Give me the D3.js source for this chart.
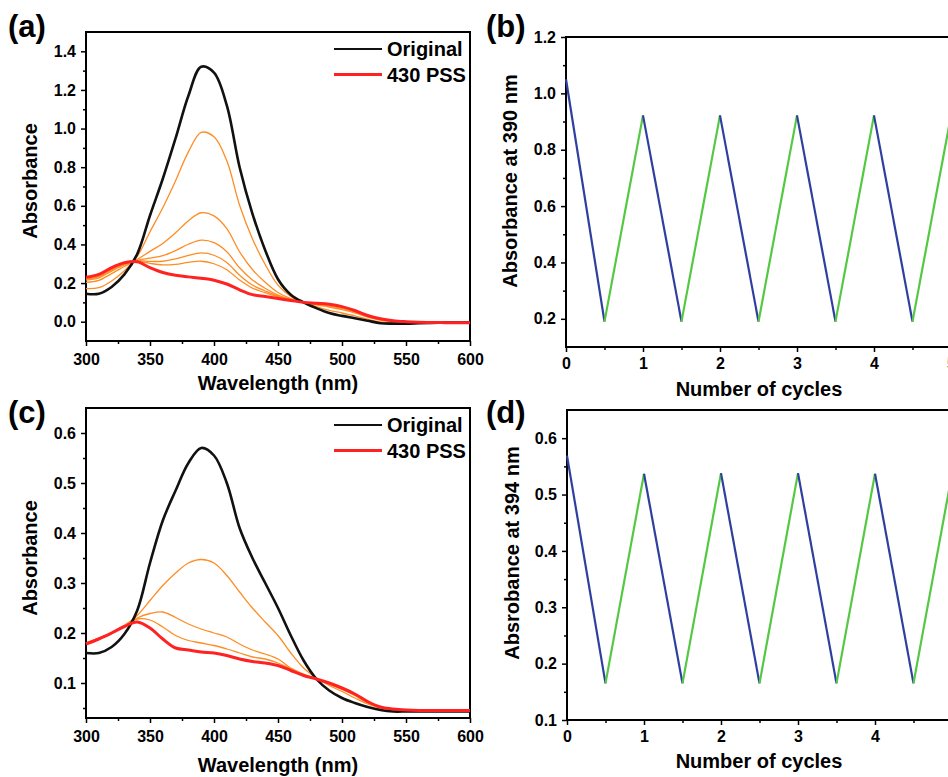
<!DOCTYPE html>
<html>
<head>
<meta charset="utf-8">
<script src="https://cdn.jsdelivr.net/npm/d3@7"></script>
<style>
  body { margin: 0; background: #fff; }
  svg { display: block; font-family: "Liberation Sans", Arial, sans-serif; font-weight: bold; }
  .tick text { font-size: 16px; font-weight: bold; fill: #000; }
  .tick line { stroke: #000; stroke-width: 1.5px; }
  .axis-label { font-size: 20px; }
  .panel-label { font-size: 31px; }
  .legend-label { font-size: 20px; }
</style>
</head>
<body>
<div id="fig"></div>
<script>
// ====== Photo-switching figure, four panels ======
//
// (a)/(c) absorption spectra, (b)/(d) absorbance over switching cycles

// wavelength grid shared by every spectrum (nm)
const wavelengths = [300, 310, 320, 330, 340, 350, 360, 370, 380, 390, 400,
                     410, 420, 430, 440, 450, 460, 470, 480, 490, 500,
                     510, 520, 530, 540, 550, 560, 570, 580, 590, 600];

// panel (a)
const aOriginal = [0.145, 0.145, 0.18, 0.245, 0.35, 0.55, 0.74, 0.95, 1.17, 1.32, 1.29,
                   1.12, 0.80, 0.56, 0.37, 0.22, 0.14, 0.10, 0.07, 0.045, 0.03,
                   0.018, 0.005, -0.008, -0.01, -0.01, -0.008, -0.006, -0.005, -0.005, -0.005];
const aPSS = [0.23, 0.245, 0.28, 0.305, 0.31, 0.28, 0.255, 0.24, 0.232, 0.225, 0.215,
              0.195, 0.165, 0.14, 0.13, 0.12, 0.11, 0.10, 0.095, 0.09, 0.078,
              0.058, 0.032, 0.015, 0.005, 0.0, -0.003, -0.004, -0.005, -0.005, -0.005];
const aStep1 = [0.171, 0.176, 0.211, 0.264, 0.338, 0.466, 0.59, 0.73, 0.879, 0.98, 0.957,
                0.833, 0.603, 0.43, 0.296, 0.189, 0.131, 0.10, 0.078, 0.059, 0.045,
                0.030, 0.013, -0.001, -0.005, -0.007, -0.007, -0.005, -0.005, -0.005, -0.005];
const aStep2 = [0.204, 0.214, 0.249, 0.286, 0.322, 0.364, 0.405, 0.46, 0.523, 0.564, 0.548,
                0.482, 0.362, 0.27, 0.204, 0.151, 0.119, 0.10, 0.087, 0.076, 0.063,
                0.046, 0.024, 0.008, 0.0, -0.003, -0.005, -0.005, -0.005, -0.005, -0.005];
const aStep3 = [0.215, 0.227, 0.262, 0.294, 0.317, 0.329, 0.342, 0.368, 0.401, 0.422, 0.409,
                0.362, 0.279, 0.216, 0.173, 0.138, 0.115, 0.10, 0.09, 0.082, 0.069,
                0.051, 0.027, 0.011, 0.002, -0.002, -0.004, -0.005, -0.005, -0.005, -0.005];
const aStep4 = [0.22, 0.233, 0.268, 0.298, 0.315, 0.312, 0.313, 0.325, 0.343, 0.356, 0.344,
                0.306, 0.241, 0.19, 0.159, 0.132, 0.114, 0.10, 0.092, 0.085, 0.072,
                0.053, 0.028, 0.012, 0.003, -0.001, -0.004, -0.005, -0.005, -0.005, -0.005];
const aStep5 = [0.223, 0.237, 0.272, 0.30, 0.313, 0.302, 0.294, 0.297, 0.307, 0.313, 0.30,
                0.269, 0.216, 0.174, 0.15, 0.128, 0.112, 0.10, 0.093, 0.086, 0.074,
                0.055, 0.029, 0.013, 0.004, 0.0, -0.003, -0.005, -0.005, -0.005, -0.005];

// panel (c)
const cOriginal = [0.16, 0.16, 0.172, 0.198, 0.245, 0.34, 0.425, 0.485, 0.54, 0.57, 0.555,
                   0.50, 0.41, 0.35, 0.30, 0.25, 0.195, 0.145, 0.108, 0.085, 0.07,
                   0.06, 0.052, 0.046, 0.043, 0.043, 0.043, 0.043, 0.043, 0.043, 0.043];
const cPSS = [0.178, 0.188, 0.20, 0.213, 0.222, 0.21, 0.188, 0.17, 0.166, 0.162, 0.16,
              0.155, 0.148, 0.143, 0.14, 0.135, 0.125, 0.115, 0.108, 0.10, 0.09,
              0.078, 0.063, 0.052, 0.048, 0.046, 0.045, 0.045, 0.045, 0.045, 0.045];
const cStep1 = [0.18, 0.19, 0.20, 0.215, 0.235, 0.265, 0.295, 0.32, 0.34, 0.347, 0.34,
                0.315, 0.282, 0.25, 0.222, 0.195, 0.16, 0.13, 0.11, 0.095, 0.083,
                0.07, 0.058, 0.05, 0.046, 0.045, 0.046, 0.046, 0.046, 0.046, 0.046];
const cStep2 = [0.18, 0.19, 0.20, 0.215, 0.23, 0.239, 0.242, 0.231, 0.218, 0.208, 0.20,
                0.192, 0.178, 0.166, 0.158, 0.148, 0.13, 0.118, 0.108, 0.097, 0.087,
                0.075, 0.06, 0.05, 0.046, 0.046, 0.046, 0.046, 0.046, 0.046, 0.046];
const cStep3 = [0.18, 0.19, 0.20, 0.215, 0.228, 0.226, 0.212, 0.195, 0.185, 0.18, 0.175,
                0.168, 0.16, 0.152, 0.148, 0.14, 0.128, 0.116, 0.108, 0.098, 0.088,
                0.076, 0.061, 0.051, 0.047, 0.046, 0.046, 0.046, 0.046, 0.046, 0.046];

// panels (b) and (d): cycle positions and absorbance
const cycles = [0, 0.5, 1, 1.5, 2, 2.5, 3, 3.5, 4, 4.5, 5];
const bAbs390 = [1.05, 0.19, 0.922, 0.19, 0.922, 0.19, 0.922, 0.19, 0.922, 0.19, 0.922];
const dAbs394 = [0.569, 0.165, 0.537, 0.165, 0.538, 0.165, 0.538, 0.165, 0.537, 0.165, 0.537];

const legendNames = ["Original", "430 PSS"];
const spectrumTicksX = [300, 350, 400, 450, 500, 550, 600];
const cycleTicksX = [0, 1, 2, 3, 4, 5];

const svg = d3.select("#fig").append("svg")
    .attr("width", 948)
    .attr("height", 777)
    .style("overflow", "hidden");

function drawAxes (g, x, y, o) {
    let width = x.range()[1], height = y.range()[0];

    // minor ticks first, major on top
    g.append("g")
        .attr("transform", "translate(0," + height + ")")
        .call(d3.axisBottom(x).tickValues(o.xMinor).tickSize(3).tickSizeOuter(0).tickFormat(""))
        .call(s => s.select(".domain").remove());
    g.append("g")
        .call(d3.axisLeft(y).tickValues(o.yMinor).tickSize(3).tickSizeOuter(0).tickFormat(""))
        .call(s => s.select(".domain").remove());

    g.append("g")
        .attr("class", "x axis")
        .attr("transform", "translate(0," + height + ")")
        .call(d3.axisBottom(x).tickValues(o.xMajor).tickSize(5).tickSizeOuter(0)
            .tickPadding(o.xPad).tickFormat(o.xFormat))
        .call(s => s.select(".domain").remove());
    g.append("g")
        .attr("class", "y axis")
        .call(d3.axisLeft(y).tickValues(o.yMajor).tickSize(5).tickSizeOuter(0)
            .tickPadding(5).tickFormat(d3.format(".1f")))
        .call(s => s.select(".domain").remove());

    // frame
    g.append("rect")
        .attr("width", width)
        .attr("height", height)
        .attr("fill", "none")
        .attr("stroke", "#000")
        .attr("stroke-width", 2);

    g.append("text")
        .attr("class", "axis-label")
        .attr("transform", "rotate(-90)")
        .attr("x", -o.yTitleY)
        .attr("y", o.yTitleX)
        .attr("dy", "0.35em")
        .style("text-anchor", "middle")
        .text(o.yTitle);

    g.append("text")
        .attr("class", "axis-label")
        .attr("x", o.xTitleX)
        .attr("y", o.xTitleY)
        .style("text-anchor", "middle")
        .text(o.xTitle);
}

function buildSpectrum (o) {
    let g = svg.append("g").attr("transform", "translate(" + o.left + "," + o.top + ")");

    let x = d3.scaleLinear().domain([300, 600]).range([0, o.width]);
    let y = d3.scaleLinear().domain(o.yDomain).range([o.height, 0]);

    drawAxes(g, x, y, {
        xMajor: spectrumTicksX,
        xMinor: d3.range(325, 600, 50),
        yMajor: o.yMajor,
        yMinor: o.yMinor,
        xPad: 8,
        xFormat: d3.format("d"),
        yTitle: "Absorbance",
        yTitleX: 30 - o.left,
        yTitleY: o.yTitleY - o.top,
        xTitle: "Wavelength (nm)",
        xTitleX: 278 - o.left,
        xTitleY: o.xTitleY - o.top
    });

    let line = d3.line()
        .x((d, i) => x(wavelengths[i]))
        .y(d => y(d))
        .curve(d3.curveCatmullRom);

    o.steps.forEach(function (s) {
        g.append("path")
            .attr("d", line(s))
            .attr("fill", "none")
            .attr("stroke", "#ff8c22")
            .attr("stroke-width", 1.3);
    });
    g.append("path")
        .attr("d", line(o.original))
        .attr("fill", "none")
        .attr("stroke", "#111")
        .attr("stroke-width", 2.6);
    g.append("path")
        .attr("d", line(o.pss))
        .attr("fill", "none")
        .attr("stroke", "#ff2222")
        .attr("stroke-width", 3);

    // legend
    let legend = g.selectAll(".legend")
        .data(legendNames)
        .enter().append("g")
        .attr("class", "legend")
        .attr("transform", (d, i) => "translate(0," + (o.legendY - o.top + i * 25.5) + ")");

    legend.append("line")
        .attr("x1", 334 - o.left)
        .attr("x2", 382 - o.left)
        .attr("stroke", (d, i) => i === 0 ? "#111" : "#ff2222")
        .attr("stroke-width", (d, i) => i === 0 ? 2 : 3);

    legend.append("text")
        .attr("class", "legend-label")
        .attr("x", 387 - o.left)
        .attr("y", 7)
        .text(d => d);

    svg.append("text")
        .attr("class", "panel-label")
        .attr("x", 8)
        .attr("y", o.labelY)
        .text(o.label);
}

function buildCycles (o) {
    let g = svg.append("g").attr("transform", "translate(" + o.left + "," + o.top + ")");

    let x = d3.scaleLinear().domain([0, 5.5]).range([0, 5.5 * 77]);
    let y = d3.scaleLinear().domain(o.yDomain).range([o.height, 0]);

    drawAxes(g, x, y, {
        xMajor: cycleTicksX,
        xMinor: [0.5, 1.5, 2.5, 3.5, 4.5],
        yMajor: o.yMajor,
        yMinor: o.yMinor,
        xPad: 6,
        xFormat: d3.format("d"),
        yTitle: o.yTitle,
        yTitleX: o.yTitleX - o.left,
        yTitleY: o.yTitleY - o.top,
        xTitle: "Number of cycles",
        xTitleX: 759 - o.left,
        xTitleY: o.xTitleY - o.top
    });

    // falling half-cycles blue, rising green
    d3.pairs(cycles.map((c, i) => [c, o.values[i]])).forEach(function (p) {
        g.append("line")
            .attr("x1", x(p[0][0]))
            .attr("y1", y(p[0][1]))
            .attr("x2", x(p[1][0]))
            .attr("y2", y(p[1][1]))
            .attr("stroke", p[1][1] < p[0][1] ? "#2f3f9f" : "#55c843")
            .attr("stroke-width", 2.2);
    });

    svg.append("text")
        .attr("class", "panel-label")
        .attr("x", 486)
        .attr("y", o.labelY)
        .text(o.label);
}

buildSpectrum({
    label: "(a)", labelY: 37,
    left: 86, top: 32, width: 384, height: 309,
    yDomain: [-0.1, 1.5],
    yMajor: [0, 0.2, 0.4, 0.6, 0.8, 1.0, 1.2, 1.4],
    yMinor: [0.1, 0.3, 0.5, 0.7, 0.9, 1.1, 1.3],
    yTitleY: 181, xTitleY: 390, legendY: 49,
    original: aOriginal, pss: aPSS,
    steps: [aStep1, aStep2, aStep3, aStep4, aStep5]
});

buildSpectrum({
    label: "(c)", labelY: 423,
    left: 86, top: 408, width: 384, height: 310,
    yDomain: [0.03, 0.65],
    yMajor: [0.1, 0.2, 0.3, 0.4, 0.5, 0.6],
    yMinor: [0.05, 0.15, 0.25, 0.35, 0.45, 0.55],
    yTitleY: 558, xTitleY: 772, legendY: 425,
    original: cOriginal, pss: cPSS,
    steps: [cStep1, cStep2, cStep3]
});

buildCycles({
    label: "(b)", labelY: 37,
    left: 566, top: 37, height: 310,
    yDomain: [0.1, 1.2],
    yMajor: [0.2, 0.4, 0.6, 0.8, 1.0, 1.2],
    yMinor: [0.3, 0.5, 0.7, 0.9, 1.1],
    yTitle: "Absorbance at 390 nm", yTitleX: 510, yTitleY: 181, xTitleY: 396,
    values: bAbs390
});

buildCycles({
    label: "(d)", labelY: 423,
    left: 567, top: 410, height: 310,
    yDomain: [0.1, 0.65],
    yMajor: [0.1, 0.2, 0.3, 0.4, 0.5, 0.6],
    yMinor: [0.15, 0.25, 0.35, 0.45, 0.55],
    yTitle: "Absrobance at 394 nm", yTitleX: 512, yTitleY: 553, xTitleY: 768,
    values: dAbs394
});
</script>
</body>
</html>
